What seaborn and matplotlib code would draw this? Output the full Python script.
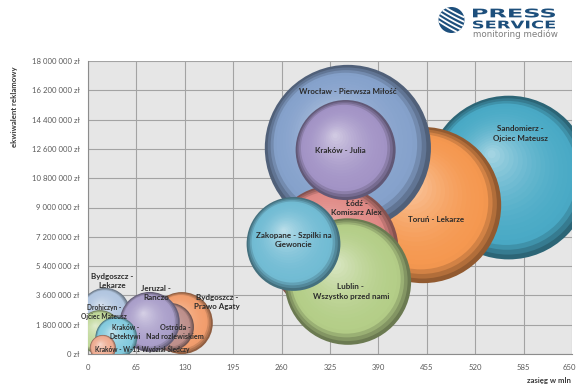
import numpy as np
import pandas as pd
import matplotlib
matplotlib.use("Agg")
import matplotlib.pyplot as plt
import seaborn as sns
from matplotlib.colors import to_rgb, to_hex
from matplotlib.patches import Circle, PathPatch
from matplotlib.textpath import TextPath
from matplotlib.font_manager import FontProperties
from matplotlib.transforms import Affine2D, IdentityTransform
from matplotlib.ticker import FuncFormatter, MultipleLocator

# ---------------- data (drawing order) ----------------
titles = [
    "Sandomierz -\nOjciec Mateusz",
    "Toruń - Lekarze",
    "Wrocław - Pierwsza Miłość",
    "Łódź -\nKomisarz Alex",
    "Lublin -\nWszystko przed nami",
    "Zakopane - Szpilki na\nGiewoncie",
    "Kraków - Julia",
    "Bydgoszcz -\nPrawo Agaty",
    "Ostróda -\nNad rozlewiskiem",
    "Bydgoszcz -\nLekarze",
    "Jeruzal -\nRanczo",
    "Drohiczyn -\nOjciec Mateusz",
    "Kraków -\nDetektywi",
    "Kraków - W-11 Wydział Śledczy",
]
reach_mln = [565, 450, 349, 330, 349, 276, 346, 126, 110, 23, 83, 16, 38, 20]
equivalent_zl = [10840000, 9150000, 12660000, 6390000, 4450000, 6760000, 12530000,
                 1900000, 1660000, 2520000, 1970000, 1350000, 1000000, 370000]
bubble_size = [67, 61, 69, 42, 40, 22, 25, 9.6, 5.8, 6.3, 9.0, 4.8, 4.4, 1.7]
bubble_colors = ["#4aaac6", "#f59850", "#86a2cc", "#e08a86", "#b4ce88", "#72bcd4",
                 "#a394c6", "#f29e6e", "#be908c", "#b2c6e0", "#aa9fca", "#c0d89a",
                 "#84cbde", "#eeac92"]
x_ticks = [0, 65, 130, 195, 260, 325, 390, 455, 520, 585, 650]

# label styling (offsets in pixels, font sizes in pt)
label_offsets = [(12, 44), (13, -14), (0, 56), (23, 42), (3, -10), (0, 4), (-5, 0),
                 (35, 21), (5, -5), (7, 32), (6, 29), (4, 20), (9, 6), (39, -1)]
label_fontsizes = [5.8, 5.8, 5.8, 5.8, 5.8, 5.8, 5.8,
                   5.8, 5.2, 5.8, 5.8, 4.8, 4.8, 4.7]
label_linespacing = [1.45, 1.45, 1.45, 1.45, 1.45, 1.45, 1.45,
                     1.45, 1.35, 1.45, 1.45, 1.35, 1.4, 1.45]

W, H, DPI = 577, 390, 100
sns.set_theme(style="white")
plt.rcParams["font.family"] = ["Lato", "DejaVu Sans"]

fig = plt.figure(figsize=(W / DPI, H / DPI), dpi=DPI)
fig.patch.set_facecolor("white")
AX_L, AX_R, AX_T, AX_B = 88, 572, 61, 354
ax = fig.add_axes([AX_L / W, (H - AX_B) / H, (AX_R - AX_L) / W, (AX_B - AX_T) / H])
ax.set_facecolor("#e6e6e6")
ax.set_xlim(0, 650)
ax.set_ylim(0, 18000000)

ax.set_xticks(x_ticks)
ax.yaxis.set_major_locator(MultipleLocator(1800000))
ax.grid(True, color="#a3a3a3", linewidth=0.8)
ax.set_axisbelow(True)


def zl(v, pos):
    s = f"{int(round(v)):,}".replace(",", " ")
    return f"{s} zł"


ax.yaxis.set_major_formatter(FuncFormatter(zl))
# last x label is placed separately so it stays inside the picture
ax.set_xticklabels([str(t) for t in x_ticks[:-1]] + [""])
ax.tick_params(axis="both", labelsize=5.6, colors="#5a5a5a", length=3,
               width=0.7, direction="out")
ax.tick_params(axis="y", pad=3)
ax.tick_params(axis="x", pad=4)
ax.annotate(str(x_ticks[-1]), xy=(x_ticks[-1], 0), xycoords="data",
            xytext=(4, -9.9), textcoords="offset pixels", ha="right", va="top",
            fontsize=5.6, color="#5a5a5a", annotation_clip=False)
for side in ["top", "right"]:
    ax.spines[side].set_visible(False)
for side in ["left", "bottom"]:
    ax.spines[side].set_color("#8c8c8c")
    ax.spines[side].set_linewidth(0.8)

# data units per pixel
ypp = 18000000 / (AX_B - AX_T)
xpp = 650 / (AX_R - AX_L)

vmax = max(bubble_size)
smax = 207.36 * vmax  # marker area (pt^2) for largest bubble

N = 22
fracs = np.linspace(1.0, 0.05, N)


def shade(base, f):
    base = np.array(to_rgb(base))
    dark = base * 0.42
    white = np.ones(3)
    if f > 0.86:
        t = (f - 0.86) / 0.14
        c = base * (1 - 0.7 * t) + dark * 0.7 * t
    else:
        t = (0.86 - f) / 0.86
        w = 0.55 * t ** 1.8
        c = base * (1 - w) + white * w
    return to_hex(np.clip(c, 0, 1))


for i in range(len(titles)):
    r_px = np.sqrt(bubble_size[i] * 100)
    rows = []
    pal = {}
    for k, f in enumerate(fracs):
        key = f"{i}_{k}"
        rows.append({
            "x": reach_mln[i] - (1 - f) * 0.22 * r_px * xpp,
            "y": equivalent_zl[i] + (1 - f) * 0.30 * r_px * ypp,
            "area": bubble_size[i] * f * f,
            "key": key,
        })
        pal[key] = shade(bubble_colors[i], f)
    df = pd.DataFrame(rows)
    sns.scatterplot(data=df, x="x", y="y", size="area", sizes=(0, smax),
                    size_norm=(0, vmax), hue="key", palette=pal, legend=False,
                    linewidth=0, alpha=1, ax=ax, zorder=3 + i)

for i in range(len(titles)):
    ax.annotate(titles[i], (reach_mln[i], equivalent_zl[i]),
                xytext=label_offsets[i], textcoords="offset pixels",
                ha="center", va="center", fontsize=label_fontsizes[i],
                fontweight="bold", color="#2b2b2b",
                linespacing=label_linespacing[i], zorder=50)

ax.set_xlabel("")
ax.set_ylabel("")

fig.text(15 / W, 1 - 107 / H, "ekwiwalent reklamowy", rotation=90,
         ha="center", va="center", fontsize=5.6, fontweight="bold",
         color="#3a3a3a")
fig.text(571 / W, 1 - 380 / H, "zasięg w mln", ha="right", va="center",
         fontsize=5.6, fontweight="bold", color="#3a3a3a")

# ---------------- logo ----------------
navy = "#1d4f7c"
cx, cy, cr = 451.5, H - 20.0, 13.0
circ = Circle((cx, cy), cr, transform=IdentityTransform(), facecolor=navy,
              edgecolor="none", zorder=10)
fig.patches.append(circ)
for j, off in enumerate(np.linspace(-9, 9, 5)):
    xs = np.linspace(cx - cr, cx + cr, 40)
    ys = cy + off - 0.55 * (xs - cx) + 0.004 * (xs - cx) ** 2
    ln = plt.Line2D(xs, ys, transform=IdentityTransform(), color="white",
                    linewidth=1.3, zorder=11)
    ln.set_clip_path(circ)
    fig.lines.append(ln)

fp = FontProperties(family="DejaVu Sans", weight="bold")


def stretched_text(s, x0, y_top, width, height, color):
    tp = TextPath((0, 0), s, size=10, prop=fp)
    bb = tp.get_extents()
    sx = width / bb.width
    sy = height / bb.height
    tr = Affine2D().translate(-bb.x0, -bb.y0).scale(sx, sy).translate(x0, H - y_top - height)
    patch = PathPatch(tr.transform_path(tp), transform=IdentityTransform(),
                      facecolor=color, edgecolor="none", zorder=12)
    fig.patches.append(patch)


stretched_text("PRESS", 473, 8.5, 82, 9.0, navy)
stretched_text("SERVICE", 473, 20.5, 82, 8.0, navy)
fig.text(473 / W, 1 - 34 / H, "monitoring mediów", ha="left", va="center",
         fontsize=6.3, color="#7f7f7f", family="DejaVu Sans")

fig.savefig("out.png", dpi=DPI, facecolor="white")
